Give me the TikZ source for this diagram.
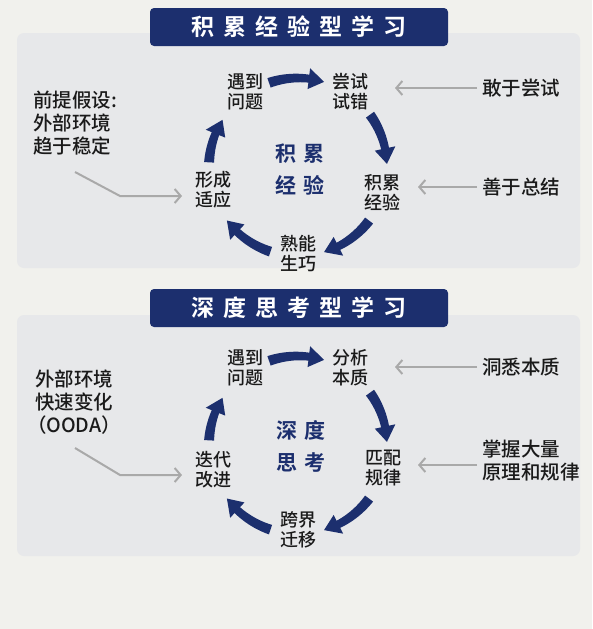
\documentclass[tikz,border=0pt]{standalone}
\usepackage{fontspec}
\setmainfont{Noto Sans CJK SC}[UprightFont=* Medium, BoldFont=* Bold]
\usetikzlibrary{arrows.meta}
\definecolor{navy}{HTML}{1C2F6E}
\definecolor{bgout}{HTML}{F1F1ED}
\definecolor{panel}{HTML}{E7E8EA}
\definecolor{garrowc}{HTML}{A9A9A9}
\definecolor{ink}{HTML}{1A1A1A}
\newcommand{\cycarrow}[4]{%
  \pgfmathsetmacro{\cyE}{#4+10}%
  \fill[navy] plot[domain=0:1,samples=24,variable=\u]
    ({#1+(89+5-1*\u)*cos(#3+(\cyE-#3)*\u)},{#2-(89+5-1*\u)*sin(#3+(\cyE-#3)*\u)})
    -- ({#1+99.5*cos(\cyE)},{#2-99.5*sin(\cyE)})
    -- ({#1+89*cos(#4)},{#2-89*sin(#4)})
    -- ({#1+78.5*cos(\cyE)},{#2-78.5*sin(\cyE)})
    -- plot[domain=1:0,samples=24,variable=\u]
    ({#1+(89-5+1*\u)*cos(#3+(\cyE-#3)*\u)},{#2-(89-5+1*\u)*sin(#3+(\cyE-#3)*\u)})
    -- cycle;}
\tikzset{
  cyc/.style={text=ink, align=center, inner sep=0pt, font=\fontsize{18}{20}\selectfont},
  ctr/.style={text=navy, align=center, inner sep=0pt, font=\fontsize{21}{32}\selectfont\bfseries},
  side/.style={text=ink, align=left, inner sep=0pt, font=\fontsize{19.5}{23}\selectfont},
  banner/.style={fill=navy, rounded corners=4pt, text=white, minimum width=298pt, minimum height=38pt, inner sep=0pt, font=\fontsize{23}{26}\selectfont\bfseries},
  panelbox/.style={fill=panel, rounded corners=7pt},
  garrow/.style={draw=garrowc, line width=2pt, -{Straight Barb[length=6pt,width=14pt]}},
}
\begin{document}
\begin{tikzpicture}[x=1pt,y=-1pt]
\useasboundingbox (0,0) rectangle (592,629);
\fill[bgout] (0,0) rectangle (592,629);
% ---------- panel 1 ----------
\fill[panelbox] (17,33) rectangle (580,268);
\node[banner] (t1) at (299,27) {积\hspace{9pt}累\hspace{9pt}经\hspace{9pt}验\hspace{9pt}型\hspace{9pt}学\hspace{9pt}习};
\node[cyc] (p1a) at (245,92) {遇到\\问题};
\node[cyc] (p1b) at (350,92) {尝试\\试错};
\node[cyc] (p1c) at (382,193) {积累\\经验};
\node[cyc] (p1d) at (298,253) {熟能\\生巧};
\node[cyc] (p1e) at (213,190) {形成\\适应};
\node[ctr] (p1m) at (300,169) {积\hspace{7pt}累\\经\hspace{7pt}验};
\cycarrow{298}{167}{109}{73}
\cycarrow{298}{167}{36}{2}
\cycarrow{298}{167}{-37}{-73}
\cycarrow{298}{167}{-108}{-143}
\cycarrow{298}{167}{177}{148}
\node[side, anchor=west] (l1) at (33,123) {前提假设:\\外部环境\\趋于稳定};
\node[side, anchor=west] (r1) at (482,88) {敢于尝试};
\node[side, anchor=west] (r2) at (482,187) {善于总结};
\coordinate (r1e) at (395,88);
\coordinate (r2e) at (418,187);
\draw[garrow, shorten <=5pt] (r1.west) -- (r1e);
\draw[garrow, shorten <=5pt] (r2.west) -- (r2e);
\coordinate (l1s) at (75,172);
\coordinate (l1k) at (120,196);
\coordinate (l1e) at (182,196);
\draw[garrow] (l1s) -- (l1k) -- (l1e);
% ---------- panel 2 ----------
\fill[panelbox] (17,315) rectangle (580,556);
\node[banner] (t2) at (299,308) {深\hspace{9pt}度\hspace{9pt}思\hspace{9pt}考\hspace{9pt}型\hspace{9pt}学\hspace{9pt}习};
\node[cyc] (p2a) at (245,368) {遇到\\问题};
\node[cyc] (p2b) at (350,368) {分析\\本质};
\node[cyc] (p2c) at (383,468) {匹配\\规律};
\node[cyc] (p2d) at (298,530) {跨界\\迁移};
\node[cyc] (p2e) at (213,470) {迭代\\改进};
\node[ctr] (p2m) at (301,446) {深\hspace{7pt}度\\思\hspace{7pt}考};
\cycarrow{298}{445}{109}{73}
\cycarrow{298}{445}{36}{2}
\cycarrow{298}{445}{-37}{-73}
\cycarrow{298}{445}{-108}{-143}
\cycarrow{298}{445}{177}{148}
\node[side, align=center] (l2) at (74,402) {外部环境\\快速变化\\（OODA）};
\node[side, anchor=west] (r3) at (482,367) {洞悉本质};
\node[side, anchor=west] (r4) at (482,461) {掌握大量\\原理和规律};
\coordinate (r3e) at (395,367);
\coordinate (r4e) at (418,465);
\draw[garrow, shorten <=5pt] (r3.west |- r3e) -- (r3e);
\draw[garrow, shorten <=5pt] (r4.west |- r4e) -- (r4e);
\coordinate (l2s) at (75,448);
\coordinate (l2k) at (120,475);
\coordinate (l2e) at (182,475);
\draw[garrow] (l2s) -- (l2k) -- (l2e);
\end{tikzpicture}
\end{document}
